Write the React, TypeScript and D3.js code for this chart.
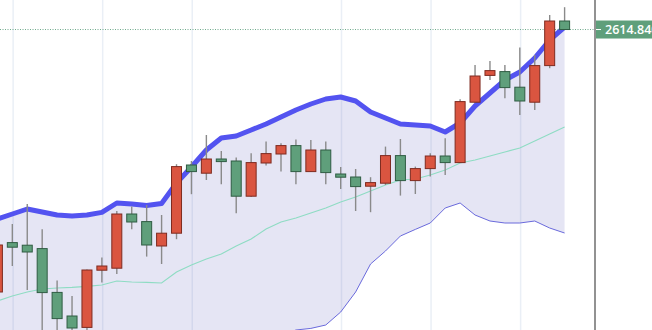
import React from "react";
import * as d3 from "d3";

const W = 652;
const H = 330;

// OHLC per session (index 0..38)
const opens = [2483.6, 2508.3, 2507.0, 2505.3, 2483.4, 2471.6, 2465.9, 2494.5, 2495.5, 2522.6, 2518.8, 2506.6, 2513.0, 2547.1, 2543.0, 2550.1, 2549.1, 2531.5, 2548.1, 2552.6, 2556.8, 2543.8, 2554.6, 2542.6, 2541.1, 2536.5, 2538.0, 2551.8, 2539.3, 2545.3, 2551.6, 2548.3, 2578.5, 2591.9, 2593.8, 2586.0, 2578.5, 2596.8, 2619.1];
const highs = [2508.1, 2517.6, 2527.6, 2515.0, 2489.3, 2481.6, 2494.8, 2500.8, 2524.1, 2526.3, 2527.1, 2522.1, 2547.5, 2549.1, 2562.1, 2554.1, 2550.8, 2553.0, 2558.8, 2558.0, 2559.8, 2559.6, 2558.8, 2546.1, 2545.1, 2541.0, 2556.3, 2560.1, 2546.3, 2553.0, 2560.5, 2580.0, 2597.1, 2599.1, 2597.1, 2605.8, 2602.1, 2622.1, 2626.0];
const lows = [2482.6, 2496.6, 2484.6, 2461.6, 2460.6, 2461.6, 2463.1, 2488.3, 2492.6, 2515.0, 2501.3, 2497.6, 2510.0, 2532.5, 2539.6, 2537.5, 2523.0, 2531.1, 2546.8, 2543.8, 2537.5, 2543.6, 2537.5, 2535.1, 2524.1, 2523.5, 2537.1, 2531.8, 2532.6, 2541.3, 2542.1, 2548.1, 2578.1, 2589.6, 2580.5, 2572.1, 2574.6, 2595.5, 2614.6];
const closes = [2507.1, 2506.0, 2503.6, 2483.3, 2470.3, 2465.6, 2494.6, 2496.6, 2522.6, 2518.6, 2507.1, 2513.0, 2546.3, 2543.8, 2550.1, 2548.8, 2531.5, 2548.3, 2552.8, 2556.8, 2543.8, 2554.6, 2543.3, 2541.0, 2536.3, 2538.3, 2551.8, 2539.3, 2545.3, 2551.6, 2548.3, 2578.8, 2591.6, 2594.3, 2585.8, 2579.1, 2596.8, 2619.1, 2614.84];

// Bollinger bands
const upperBand = [2520.1, 2522.6, 2525.1, 2523.6, 2522.1, 2521.6, 2522.1, 2523.4, 2528.1, 2527.6, 2526.9, 2527.9, 2538.1, 2546.1, 2554.6, 2560.6, 2561.6, 2564.6, 2567.6, 2571.1, 2574.6, 2577.6, 2580.1, 2581.1, 2579.1, 2573.6, 2570.6, 2567.6, 2567.1, 2566.6, 2563.6, 2568.1, 2576.6, 2583.1, 2589.6, 2593.6, 2600.6, 2609.6, 2616.1];
const middleBand = [2479.1, 2481.6, 2483.6, 2485.1, 2485.6, 2485.9, 2486.4, 2487.1, 2489.1, 2488.6, 2488.4, 2488.1, 2493.6, 2497.1, 2500.1, 2502.6, 2506.6, 2510.1, 2515.1, 2518.6, 2520.6, 2523.1, 2525.6, 2528.6, 2531.1, 2534.1, 2537.1, 2539.6, 2540.1, 2542.1, 2544.6, 2548.1, 2549.6, 2551.6, 2553.6, 2555.6, 2559.1, 2562.6, 2566.1];
const lowerBand = [2438.1, 2440.6, 2442.1, 2446.6, 2449.1, 2450.2, 2450.7, 2450.8, 2450.1, 2449.6, 2449.9, 2448.3, 2449.1, 2448.1, 2445.6, 2444.6, 2451.6, 2455.6, 2460.6, 2462.0, 2464.6, 2465.4, 2467.1, 2473.6, 2483.6, 2497.6, 2504.1, 2511.6, 2514.9, 2518.1, 2525.6, 2528.1, 2522.1, 2519.1, 2518.1, 2518.1, 2519.1, 2515.6, 2513.1];

// Sessions that carry a vertical grid line
const gridSessions = [1, 7, 13, 23, 29, 35];
const lastPriceLabel = "2614.840";

export default function App() {
  const n = closes.length;
  const idx = d3.range(n);
  const x = d3.scaleLinear().domain([0, n - 1]).range([-2.6, 564.6]);
  const y = d3.scaleLinear().domain([2464.6, 2629.6]).range([H, 0]);
  const step = x(1) - x(0);
  const bodyW = step * 0.67;
  const axisX = 595;

  const area = d3
    .area<number>()
    .x((i) => x(i))
    .y0((i) => y(lowerBand[i]))
    .y1((i) => y(upperBand[i]));
  const line = (arr: number[]) =>
    d3
      .line<number>()
      .x((i) => x(i))
      .y((i) => y(arr[i]))(idx) || "";

  const lastY = y(closes[n - 1]);

  return (
    <svg
      width={W}
      height={H}
      style={{ position: "fixed", left: 0, top: 0, background: "#fff" }}
    >
      <defs>
        <clipPath id="plot">
          <rect x={0} y={0} width={axisX} height={H} />
        </clipPath>
      </defs>
      <g clipPath="url(#plot)">
        {gridSessions.map((g) => (
          <line
            key={g}
            x1={x(g) + 0.8}
            x2={x(g) + 0.8}
            y1={0}
            y2={H}
            stroke="#eaeff6"
            strokeWidth={1.5}
          />
        ))}
        <path d={area(idx) || ""} fill="rgb(100,100,190)" fillOpacity={0.17} />
        <path d={line(lowerBand)} fill="none" stroke="#6a6adc" strokeWidth={1} />
        <path d={line(middleBand)} fill="none" stroke="#8edcc3" strokeWidth={1.1} />
        <path
          d={line(upperBand)}
          fill="none"
          stroke="#5353f0"
          strokeWidth={5}
          strokeLinejoin="round"
          strokeLinecap="round"
        />
        <line
          x1={0}
          x2={axisX}
          y1={lastY}
          y2={lastY}
          stroke="#6fa98c"
          strokeWidth={1}
          strokeDasharray="1 1.5"
        />
        {idx.map((i) => {
          const up = closes[i] >= opens[i];
          const top = y(Math.max(opens[i], closes[i]));
          const bot = y(Math.min(opens[i], closes[i]));
          const cx = x(i);
          return (
            <g key={i}>
              <line
                x1={cx}
                x2={cx}
                y1={y(highs[i])}
                y2={y(lows[i])}
                stroke="#8a8a8a"
                strokeWidth={1.4}
              />
              <rect
                x={cx - bodyW / 2}
                y={top}
                width={bodyW}
                height={Math.max(1, bot - top)}
                fill={up ? "#da5540" : "#5f9f7b"}
                stroke={up ? "#7e2b20" : "#2f5c43"}
                strokeWidth={1}
              />
            </g>
          );
        })}
      </g>
      <line x1={axisX} x2={axisX} y1={0} y2={H} stroke="#6e6e6e" strokeWidth={1.5} />
      <rect x={axisX + 1} y={lastY - 9} width={W - axisX} height={18} fill="#5f9f7b" />
      <line x1={axisX + 1} x2={axisX + 6} y1={lastY} y2={lastY} stroke="#fff" strokeWidth={1} />
      <text
        x={axisX + 10}
        y={lastY + 4.5}
        fill="#fff"
        fontFamily="'Open Sans', sans-serif"
        fontSize={12.5}
        fontWeight={600}
      >
        {lastPriceLabel}
      </text>
    </svg>
  );
}
